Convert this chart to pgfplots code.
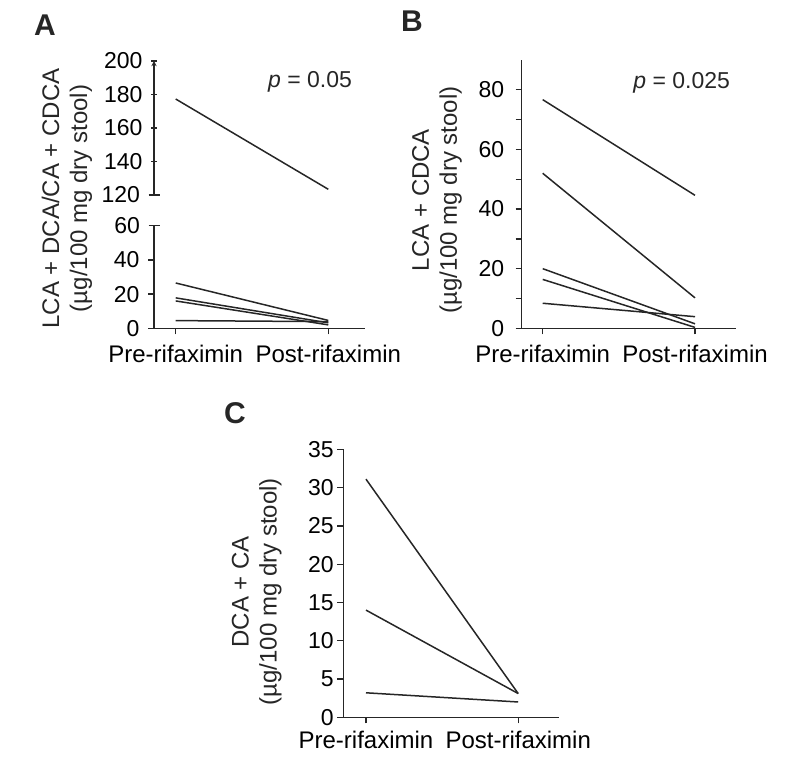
\documentclass[border=0pt]{standalone}
\usepackage{fontspec}
\setmainfont{Liberation Sans}
\usepackage{pgfplots}
\pgfplotsset{compat=1.18}

\definecolor{ink}{HTML}{262626}
\newcommand{\numfont}{\fontsize{23bp}{27bp}\selectfont}
\newcommand{\catfont}{\fontsize{24bp}{28bp}\selectfont}

\pgfplotsset{
  panel/.style={
    scale only axis, clip=false,
    axis lines=left,
    axis line style={-, line width=1.3bp, color=ink},
    tick align=outside, major tick length=6bp, minor tick length=6bp,
    every tick/.style={line width=1.3bp, color=ink},
    xtick={0,1}, xticklabels={Pre-rifaximin,Post-rifaximin},
    xticklabel style={font=\catfont, yshift=-7bp},
    yticklabel style={font=\numfont},
    /pgf/number format/assume math mode=true,
    every axis plot post/.append style={color=ink, line width=1.5bp, mark=none},
  },
}

\begin{document}
\begin{tikzpicture}
\path[use as bounding box] (0bp,0bp) rectangle (788bp,759bp);

% panel A, lower part
\begin{axis}[panel, at={(154bp,430.7bp)}, anchor=south west,
  width=211bp, height=102.6bp,
  xmin=-0.1422, xmax=1.2405, ymin=0, ymax=60,
  ytick={0,20,40}, extra y ticks={60},
  yticklabel style={xshift=-5bp},
  extra y tick style={tick align=center, major tick length=11bp}]
\addplot coordinates {(0,26.5) (1,4.6)};
\addplot coordinates {(0,17.8) (1,3.2)};
\addplot coordinates {(0,16.0) (1,2.0)};
\addplot coordinates {(0,4.5) (1,3.9)};
\end{axis}

% panel A, upper part
\begin{axis}[panel, at={(154bp,564bp)}, anchor=south west,
  width=211bp, height=134bp,
  axis x line=none, axis y line=left,
  xmin=-0.1422, xmax=1.2405, ymin=120, ymax=200,
  ytick={140,160,180,200}, extra y ticks={120},
  yticklabel style={xshift=-5bp},
  extra y tick style={tick align=center, major tick length=11bp}]
\addplot coordinates {(0,177.3) (1,123.4)};
\end{axis}

% panel B
\begin{axis}[panel, at={(521.7bp,430.7bp)}, anchor=south west,
  width=214.3bp, height=268.3bp,
  xmin=-0.1379, xmax=1.269, ymin=0, ymax=90,
  ytick={0,20,40,60,80}, minor ytick={10,30,50,70},
  yticklabel style={xshift=-8bp}]
\addplot coordinates {(0,76.7) (1,44.6)};
\addplot coordinates {(0,52.0) (1,10.2)};
\addplot coordinates {(0,20.0) (1,1.5)};
\addplot coordinates {(0,16.4) (1,0.3)};
\addplot coordinates {(0,8.4) (1,3.9)};
\end{axis}

% panel C
\begin{axis}[panel, at={(343.3bp,41.7bp)}, anchor=south west,
  width=216bp, height=268bp,
  xmin=-0.149, xmax=1.27, ymin=0, ymax=35,
  ytick={0,5,10,15,20,25,30,35},
  xticklabel style={yshift=3bp}]
\addplot coordinates {(0,31.1) (1,3.1)};
\addplot coordinates {(0,14.0) (1,3.1)};
\addplot coordinates {(0,3.2) (1,2.0)};
\end{axis}

% axis titles
\node[rotate=90, align=center, font=\catfont, text=ink, inner sep=0pt] at (67bp,560.5bp)
  {LCA + DCA/CA + CDCA\\(µg/100 mg dry stool)};
\node[rotate=90, align=center, font=\catfont, text=ink, inner sep=0pt] at (437bp,559bp)
  {LCA + CDCA\\(µg/100 mg dry stool)};
\node[rotate=90, align=center, font=\catfont, text=ink, inner sep=0pt] at (256.7bp,167.3bp)
  {DCA + CA\\(µg/100 mg dry stool)};

% p values
\node[font=\numfont, text=ink] at (310bp,677bp) {\textit{p} = 0.05};
\node[font=\numfont, text=ink] at (681.7bp,676.3bp) {\textit{p} = 0.025};

% panel letters
\node[font=\fontsize{30bp}{32bp}\selectfont\bfseries, text=ink] at (45bp,734bp) {A};
\node[font=\fontsize{30bp}{32bp}\selectfont\bfseries, text=ink] at (412bp,738bp) {B};
\node[font=\fontsize{30bp}{32bp}\selectfont\bfseries, text=ink] at (235bp,346bp) {C};
\end{tikzpicture}
\end{document}
